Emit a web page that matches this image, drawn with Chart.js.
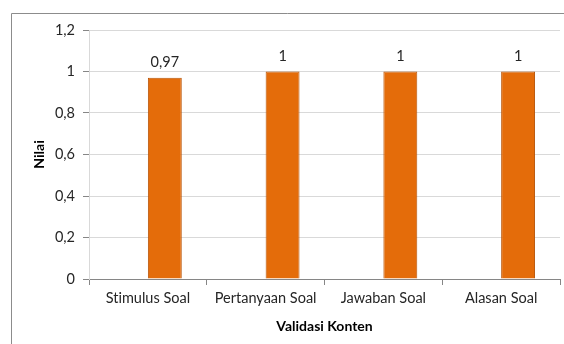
<!DOCTYPE html>
<html lang="id">
<head>
  <meta charset="UTF-8">
  <title>Validasi Konten</title>
  <script src="https://cdn.jsdelivr.net/npm/chart.js"></script>
  <style>
    body { margin: 0; background: #fff; }
    canvas { display: block; font-variant-ligatures: none; }
  </style>
</head>
<body>
  <canvas id="chart" width="564" height="344"></canvas>
  <script>
    const categories = ['Stimulus Soal', 'Pertanyaan Soal', 'Jawaban Soal', 'Alasan Soal'];
    // the source sheet had an empty first series, which pushes the bars right of centre
    const emptySeries = [null, null, null, null];
    const values = [0.97, 1, 1, 1];
    const yTicks = [0, 0.2, 0.4, 0.6, 0.8, 1, 1.2];

    const FONT = 'Lato, "Open Sans", sans-serif';
    const fmt = v => String(Math.round(v * 100) / 100).replace('.', ',');

    // outer frame and value labels over the bars
    const extras = {
      id: 'extras',
      beforeDraw(chart) {
        const ctx = chart.ctx;
        ctx.save();
        ctx.strokeStyle = '#8c8c8c';
        ctx.lineWidth = 1;
        ctx.beginPath();
        ctx.moveTo(11.5, 344);
        ctx.lineTo(11.5, 13.5);
        ctx.lineTo(564, 13.5);
        ctx.stroke();
        ctx.restore();
      },
      afterDatasetsDraw(chart) {
        const ctx = chart.ctx;
        const meta = chart.getDatasetMeta(1);
        ctx.save();
        ctx.font = '14.5px ' + FONT;
        ctx.fillStyle = '#262626';
        ctx.textAlign = 'center';
        ctx.textBaseline = 'bottom';
        meta.data.forEach((bar, i) => {
          ctx.fillText(fmt(values[i]), bar.x, bar.y - 8);
        });
        ctx.restore();
      }
    };

    new Chart(document.getElementById('chart'), {
      type: 'bar',
      data: {
        labels: categories,
        datasets: [{
          data: emptySeries,
          barPercentage: 1,
          categoryPercentage: 0.576
        }, {
          data: values,
          backgroundColor: '#E46C0A',
          borderColor: '#B9560A',
          borderWidth: 1,
          barPercentage: 1,
          categoryPercentage: 0.576
        }]
      },
      options: {
        responsive: false,
        animation: false,
        devicePixelRatio: 1,
        layout: { padding: { left: 11, right: 4, top: 30, bottom: 0 } },
        plugins: { legend: { display: false }, tooltip: { enabled: false } },
        scales: {
          x: {
            grid: { offset: true, drawOnChartArea: false, drawTicks: true, tickLength: 6, color: '#868686' },
            border: { color: '#868686' },
            ticks: { padding: 5, autoSkip: false, color: '#262626', font: { family: FONT, size: 14.5 }, maxRotation: 0 },
            title: { display: true, text: 'Validasi Konten', color: '#000', padding: { top: 8, bottom: 9 },
                     font: { family: FONT, size: 14, weight: 'bold' } },
            afterFit: s => { s.height = 65; }
          },
          y: {
            min: 0,
            max: 1.2,
            afterBuildTicks: s => { s.ticks = yTicks.map(v => ({ value: v })); },
            grid: { color: '#d9d9d9', tickColor: '#868686', tickLength: 6 },
            border: { color: '#d9d9d9' },
            ticks: { padding: 8, autoSkip: false, color: '#262626', font: { family: FONT, size: 14.5 }, callback: v => fmt(v) },
            title: { display: true, text: 'Nilai', color: '#000', padding: { top: 20, bottom: 0 },
                     font: { family: FONT, size: 14, weight: 'bold' } },
            afterFit: s => { s.width = 78; }
          }
        }
      },
      plugins: [extras]
    });
  </script>
</body>
</html>
